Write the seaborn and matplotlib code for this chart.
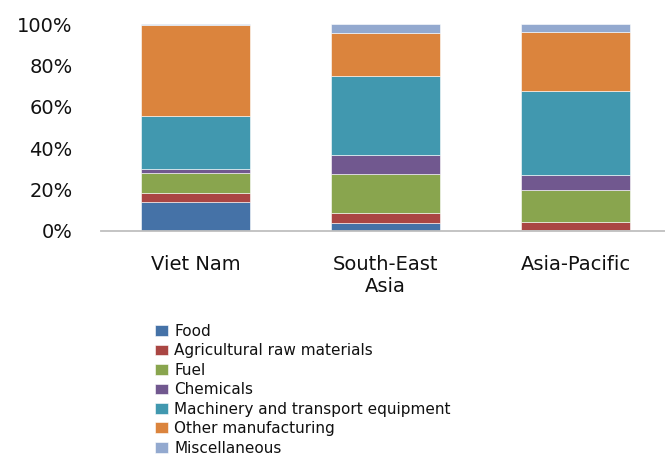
import numpy as np
import pandas as pd
import seaborn as sns
import matplotlib
matplotlib.use("Agg")
import matplotlib.pyplot as plt
from matplotlib.ticker import PercentFormatter

# Export structure by product group (% of total merchandise exports)
regions = ["Viet Nam", "South-East\nAsia", "Asia-Pacific"]
categories = ["Food", "Agricultural raw materials", "Fuel", "Chemicals",
              "Machinery and transport equipment", "Other manufacturing",
              "Miscellaneous"]
food = [14.2, 4.0, 0.5]
agri_raw = [4.2, 4.5, 4.0]
fuel = [9.5, 18.9, 15.2]
chemicals = [2.1, 9.2, 7.2]
machinery = [25.7, 38.3, 40.7]
other_manuf = [44.0, 20.8, 28.5]
misc = [0.3, 4.3, 3.9]

colors = ["#4572A7", "#AA4643", "#89A54E", "#71588F",
          "#4198AF", "#DB843D", "#93A9CF"]

series = [food, agri_raw, fuel, chemicals, machinery, other_manuf, misc]
df = pd.DataFrame({cat: vals for cat, vals in zip(categories, series)},
                  index=regions)

sns.set_theme(style="white")
plt.rcParams["font.family"] = ["DejaVu Sans"]

fig = plt.figure(figsize=(6.65, 4.55), dpi=100)
ax = fig.add_axes([100.5 / 665, 1 - 231 / 455, 570 / 665, 207 / 455])

bottom = np.zeros(len(regions))
for cat, col in zip(categories, colors):
    vals = df[cat].to_numpy()
    sns.barplot(x=list(df.index), y=vals, bottom=bottom, color=col,
                width=0.57, label=cat, ax=ax, saturation=1,
                edgecolor="white", linewidth=0.4)
    bottom = bottom + vals

ax.set_ylim(0, 100)
ax.set_xlim(-0.5, 2.5)
ax.yaxis.set_major_formatter(PercentFormatter(decimals=0))
ax.set_yticks([0, 20, 40, 60, 80, 100])
for s in ["top", "right", "left"]:
    ax.spines[s].set_visible(False)
ax.spines["bottom"].set_color("#BFBFBF")
ax.spines["bottom"].set_linewidth(1.3)
ax.tick_params(axis="y", length=0, pad=20, labelsize=14, labelcolor="#111111")
ax.tick_params(axis="x", length=0, pad=17, labelsize=14, labelcolor="#111111")
ax.set_xlabel("")
ax.set_ylabel("")
ax.grid(False)

if ax.get_legend():
    ax.get_legend().remove()
handles, labels = ax.get_legend_handles_labels()
fig.legend(handles, labels, loc="upper left",
           bbox_to_anchor=(155 / 665, 1 - 324 / 455),
           frameon=False, fontsize=11, labelspacing=0.29,
           handlelength=0.85, handleheight=0.7, handletextpad=0.4,
           borderpad=0, borderaxespad=0, labelcolor="#111111")

fig.savefig("out.png", dpi=100)
